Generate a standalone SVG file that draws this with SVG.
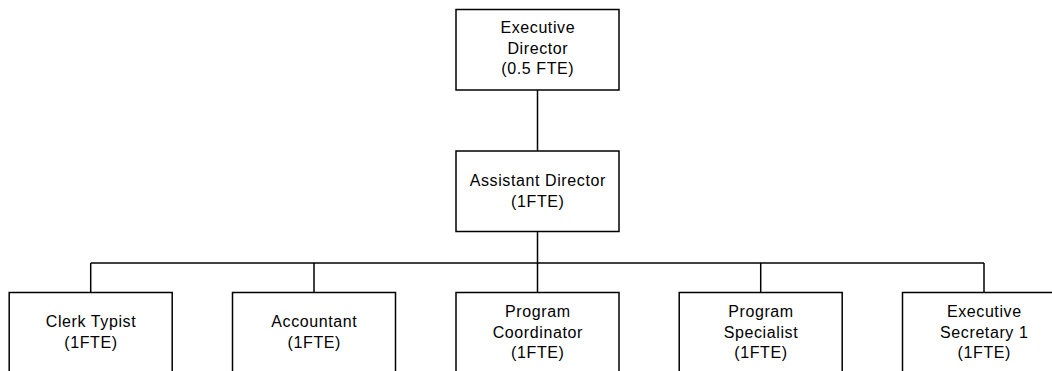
<svg xmlns="http://www.w3.org/2000/svg" width="1052" height="371" viewBox="0 0 1052 371">
  <style>
    .box { fill: #ffffff; stroke: #000000; stroke-width: 1.5; }
    .lbl { font-family: "Liberation Sans", Arial, sans-serif; font-size: 16px; letter-spacing: 0.6px; fill: #000000; text-anchor: middle; }
    .conn { fill: none; stroke: #000000; stroke-width: 1.5; }
  </style>
  <rect width="1052" height="371" fill="#ffffff"/>

  <!-- reporting lines -->
  <g id="connectors">
    <path class="conn" d="M537.5 90 V151"/>
    <path class="conn" d="M537.5 231.5 V263"/>
    <path class="conn" d="M90.7 263 H984"/>
    <path class="conn" d="M90.7 263 V292.5"/>
    <path class="conn" d="M314 263 V292.5"/>
    <path class="conn" d="M537.5 263 V292.5"/>
    <path class="conn" d="M760.7 263 V292.5"/>
    <path class="conn" d="M984 263 V292.5"/>
  </g>

  <g id="executive-director">
    <rect class="box" x="456" y="9.5" width="163" height="80.5"/>
    <text class="lbl" x="537.8" y="33">Executive</text>
    <text class="lbl" x="537.8" y="53.5">Director</text>
    <text class="lbl" x="537.8" y="74">(0.5 FTE)</text>
  </g>

  <g id="assistant-director">
    <rect class="box" x="456" y="151" width="163" height="80.5"/>
    <text class="lbl" x="537.8" y="186">Assistant Director</text>
    <text class="lbl" x="537.8" y="206.5">(1FTE)</text>
  </g>

  <g id="clerk-typist">
    <rect class="box" x="9.2" y="292.5" width="163" height="81"/>
    <text class="lbl" x="91" y="327.3">Clerk Typist</text>
    <text class="lbl" x="91" y="347.7">(1FTE)</text>
  </g>

  <g id="accountant">
    <rect class="box" x="232.5" y="292.5" width="163" height="81"/>
    <text class="lbl" x="314.3" y="327.3">Accountant</text>
    <text class="lbl" x="314.3" y="347.7">(1FTE)</text>
  </g>

  <g id="program-coordinator">
    <rect class="box" x="456" y="292.5" width="163" height="81"/>
    <text class="lbl" x="537.8" y="317">Program</text>
    <text class="lbl" x="537.8" y="337.5">Coordinator</text>
    <text class="lbl" x="537.8" y="358">(1FTE)</text>
  </g>

  <g id="program-specialist">
    <rect class="box" x="679.2" y="292.5" width="163" height="81"/>
    <text class="lbl" x="761" y="317">Program</text>
    <text class="lbl" x="761" y="337.5">Specialist</text>
    <text class="lbl" x="761" y="358">(1FTE)</text>
  </g>

  <g id="executive-secretary">
    <rect class="box" x="902.5" y="292.5" width="163" height="81"/>
    <text class="lbl" x="984.3" y="317">Executive</text>
    <text class="lbl" x="984.3" y="337.5">Secretary 1</text>
    <text class="lbl" x="984.3" y="358">(1FTE)</text>
  </g>
</svg>
